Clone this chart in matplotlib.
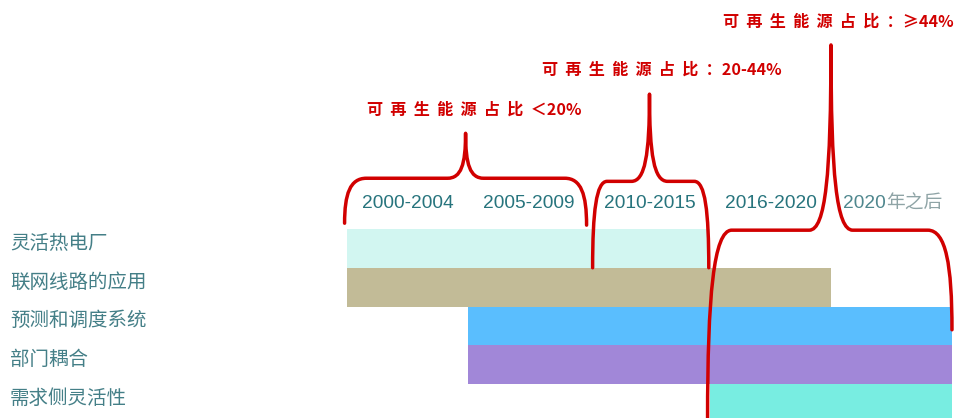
import numpy as np
import matplotlib
matplotlib.use('Agg')
import matplotlib.pyplot as plt
from matplotlib.path import Path
from matplotlib.patches import PathPatch

#------------------------------------------------------------------------
# timeline data

periods = ['2000-2004', '2005-2009', '2010-2015', '2016-2020', '2020年之后']
measures = ['灵活热电厂', '联网线路的应用', '预测和调度系统', '部门耦合', '需求侧灵活性']
start_idx = [0, 0, 1, 1, 3]     # first period column of each measure
end_idx = [3, 4, 5, 5, 5]       # column boundary where it stops
bar_colors = ['#d2f6f1', '#c2bb97', '#5abefe', '#a187d8', '#78ede1']

# renewable share phases, spanning period columns
phase_spans = [(0, 2), (2, 3), (3, 5)]
phase_labels = ['可  再  生  能  源  占  比  ＜20%',
                '可  再  生  能  源  占  比  ：20-44%',
                '可  再  生  能  源  占  比  ：≥44%']

RED = '#d10000'
TEAL = '#27747d'

#------------------------------------------------------------------------

def brace(ax, x0, x1, xt, yl, yr, yf, yt, rx=0.18, cw=0.15):
    # curly brace opening downward, tip pointing up to (xt, yt)
    rise = yf - yt
    verts = [
        (x0, yl),
        (x0, yf + 0.35 * (yl - yf)), (x0 + rx * 0.25, yf), (x0 + rx, yf),
        (xt - cw, yf),
        (xt - cw * 0.25, yf), (xt, yf - 0.3 * rise), (xt, yt),
        (xt, yf - 0.3 * rise), (xt + cw * 0.25, yf), (xt + cw, yf),
        (x1 - rx, yf),
        (x1 - rx * 0.25, yf), (x1, yf + 0.35 * (yr - yf)), (x1, yr),
    ]
    codes = [Path.MOVETO,
             Path.CURVE4, Path.CURVE4, Path.CURVE4,
             Path.LINETO,
             Path.CURVE4, Path.CURVE4, Path.CURVE4,
             Path.CURVE4, Path.CURVE4, Path.CURVE4,
             Path.LINETO,
             Path.CURVE4, Path.CURVE4, Path.CURVE4]
    ax.add_patch(PathPatch(Path(verts, codes), fill=False, edgecolor=RED,
                           lw=2.5, capstyle='round', joinstyle='round',
                           zorder=5, clip_on=False))


def main():
    plt.rcParams['font.family'] = ['Noto Sans CJK SC', 'DejaVu Sans']
    fig = plt.figure(figsize=(9.55, 4.18), dpi=100)
    ax = fig.add_axes([0, 0, 1, 1])
    # x in period columns, y in rows (downwards)
    ax.set_xlim(-2.868, 5.025)
    ax.set_ylim(4.377, -6.41)
    ax.axis('off')

    rows = np.arange(len(measures))
    widths = np.array(end_idx) - np.array(start_idx)
    ax.barh(rows, widths, left=start_idx, height=1.0, color=bar_colors,
            edgecolor='none', zorder=2)

    for i, name in enumerate(measures):
        ax.text(-2.785, i - 0.13, name, fontsize=14, color='#447f87',
                ha='left', va='center')

    for j, p in enumerate(periods[:-1]):
        ax.text(j + 0.5, -1.17, p, fontsize=13.8, color=TEAL,
                family='Liberation Sans', ha='center', va='center')
    # last column label: year in teal, suffix in grey
    last_year, last_suffix = periods[-1][:4], periods[-1][4:]
    ax.text(4.455, -1.17, last_year, fontsize=13.8, color='#4f878e',
            family='Liberation Sans', ha='right', va='center')
    ax.text(4.455, -1.17, last_suffix, fontsize=13.5, color='#8fa4a6',
            ha='left', va='center')

    # phase braces and labels
    brace(ax, phase_spans[0][0] - 0.02, phase_spans[0][1] - 0.02, 0.98,
          -0.65, -0.6, -1.81, -2.97)
    brace(ax, phase_spans[1][0] + 0.03, phase_spans[1][1] - 0.01, 2.5,
          0.5, 0.5, -1.73, -3.98, rx=0.12)
    brace(ax, phase_spans[2][0] - 0.02, phase_spans[2][1], 4.0,
          4.4, 2.1, -0.47, -5.25, rx=0.2, cw=0.18)

    label_pos = [(1.05, -3.57), (2.6, -4.6), (4.06, -5.84)]
    for (x, y), txt in zip(label_pos, phase_labels):
        ax.text(x, y, txt, fontsize=11.6, color=RED, fontweight='bold',
                ha='center', va='center', zorder=6)

    fig.savefig('out.png', dpi=100)

#------------------------------------------------------------------------

if __name__ == "__main__":
    main()
